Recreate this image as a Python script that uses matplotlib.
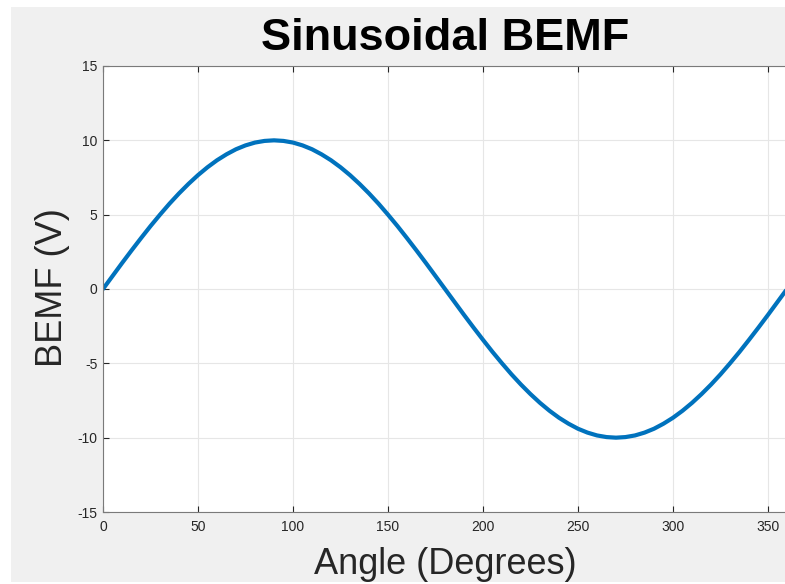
import matplotlib.pyplot as plt
from matplotlib.patches import Rectangle

# значения (шаг 5 градусов)
angle_deg = list(range(0, 365, 5))
bemf_v = [0.0, 0.87, 1.74, 2.59, 3.42, 4.23, 5.0, 5.74, 6.43, 7.07,
          7.66, 8.19, 8.66, 9.06, 9.4, 9.66, 9.85, 9.96, 10.0,
          9.96, 9.85, 9.66, 9.4, 9.06, 8.66, 8.19, 7.66, 7.07, 6.43,
          5.74, 5.0, 4.23, 3.42, 2.59, 1.74, 0.87, 0.0,
          -0.87, -1.74, -2.59, -3.42, -4.23, -5.0, -5.74, -6.43, -7.07,
          -7.66, -8.19, -8.66, -9.06, -9.4, -9.66, -9.85, -9.96, -10.0,
          -9.96, -9.85, -9.66, -9.4, -9.06, -8.66, -8.19, -7.66, -7.07, -6.43,
          -5.74, -5.0, -4.23, -3.42, -2.59, -1.74, -0.87, 0.0]
x_ticks = [0, 50, 100, 150, 200, 250, 300, 350]
y_ticks = [-15, -10, -5, 0, 5, 10, 15]

plt.rcParams['font.family'] = ['Liberation Sans', 'DejaVu Sans']
plt.rcParams['axes.unicode_minus'] = False

fig = plt.figure(figsize=(7.85, 5.84), dpi=100, facecolor='white')
# серый фон окна MATLAB
fig.patches.append(Rectangle((11 / 785, 2 / 584), 1 - 11 / 785, 575 / 584,
                             transform=fig.transFigure, facecolor='#f0f0f0',
                             edgecolor='none', zorder=-5))

ax = fig.add_axes([103 / 785, 72 / 584, 684 / 785, 446 / 584])
ax.set_facecolor('white')
ax.plot(angle_deg, bemf_v, color='#0072bd', linewidth=3, solid_capstyle='round')

ax.set_xlim(0, 360)
ax.set_ylim(-15, 15)
ax.set_xticks(x_ticks)
ax.set_yticks(y_ticks)
ax.grid(True, color='#e6e6e6', linewidth=0.8)
ax.set_axisbelow(True)
ax.tick_params(direction='in', length=4, width=0.8, colors='#262626',
               labelsize=10, top=True, right=False)
ax.tick_params(axis='x', pad=6)
ax.tick_params(axis='y', pad=4)
for sp in ax.spines.values():
    sp.set_color('#7a7a7a')
    sp.set_linewidth(0.8)

ax.set_title('Sinusoidal BEMF', fontsize=32.5, fontweight='bold', pad=11.5)
ax.set_xlabel('Angle (Degrees)', fontsize=26, color='#262626')
ax.xaxis.set_label_coords(0.5, -0.139)
ax.xaxis.label.set_va('baseline')
ax.set_ylabel('BEMF (V)', fontsize=26, color='#262626')
ax.yaxis.set_label_coords(-0.06, 0.503)
ax.yaxis.label.set_va('baseline')

fig.savefig('out.png', dpi=100, facecolor='white')
